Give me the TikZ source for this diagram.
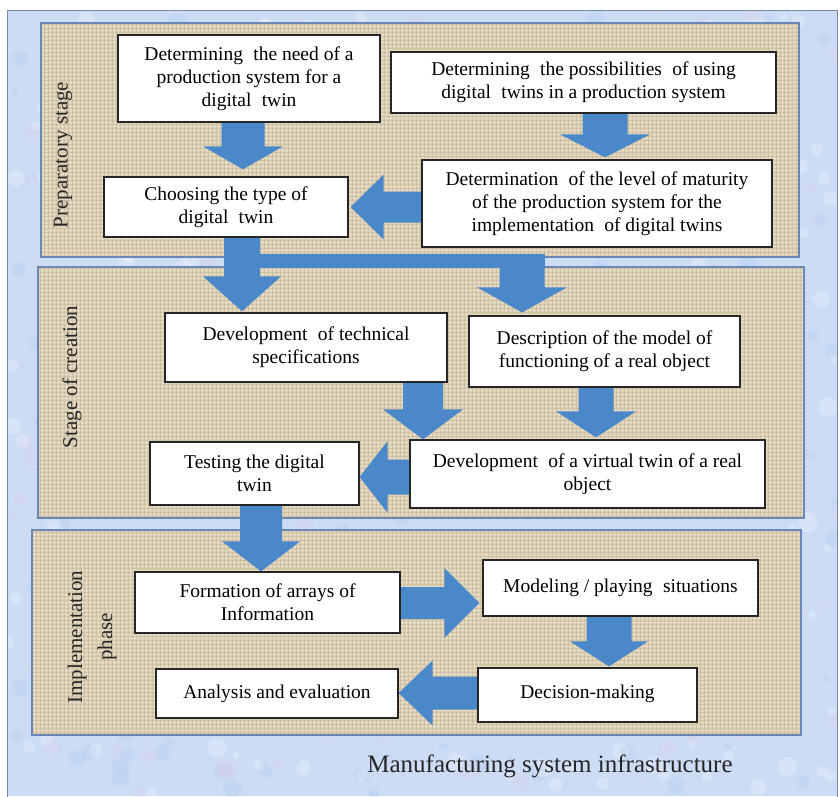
\documentclass[tikz,border=0pt]{standalone}
\usepackage{fontspec}
\setmainfont{Liberation Serif}
\usetikzlibrary{calc}
\definecolor{bgblue}{RGB}{204,220,244}
\definecolor{blobpink}{RGB}{226,202,234}
\definecolor{blobblue}{RGB}{170,198,238}
\definecolor{framecol}{RGB}{120,138,170}
\definecolor{tanfill}{RGB}{221,207,179}
\definecolor{tanline}{RGB}{170,150,115}
\definecolor{panelline}{RGB}{105,135,180}
\definecolor{arrowblue}{RGB}{74,136,202}
\newcommand\dsp{\hspace{0.28em}}
% down block arrow: #1 x, #2 from anchor, #3 to anchor, #4 gap, #5 shaft half width, #6 head half width, #7 head length
\newcommand\dblk[7]{%
  \fill[blkarrow] let \p1=(#2), \p2=(#3), \p3=(#1,0) in
    (\x3-#5pt,\y1) -- (\x3+#5pt,\y1) -- (\x3+#5pt,\y2+#4pt+#7pt) -- (\x3+#6pt,\y2+#4pt+#7pt)
    -- (\x3,\y2+#4pt) -- (\x3-#6pt,\y2+#4pt+#7pt) -- (\x3-#5pt,\y2+#4pt+#7pt) -- cycle;}
% left block arrow: #1 y
\newcommand\lblk[7]{%
  \fill[blkarrow] let \p1=(#2), \p2=(#3), \p3=(0,#1) in
    (\x1,\y3-#5pt) -- (\x1,\y3+#5pt) -- (\x2+#4pt+#7pt,\y3+#5pt) -- (\x2+#4pt+#7pt,\y3+#6pt)
    -- (\x2+#4pt,\y3) -- (\x2+#4pt+#7pt,\y3-#6pt) -- (\x2+#4pt+#7pt,\y3-#5pt) -- cycle;}
% right block arrow
\newcommand\rblk[7]{%
  \fill[blkarrow] let \p1=(#2), \p2=(#3), \p3=(0,#1) in
    (\x1,\y3-#5pt) -- (\x1,\y3+#5pt) -- (\x2-#4pt-#7pt,\y3+#5pt) -- (\x2-#4pt-#7pt,\y3+#6pt)
    -- (\x2-#4pt,\y3) -- (\x2-#4pt-#7pt,\y3-#6pt) -- (\x2-#4pt-#7pt,\y3-#5pt) -- cycle;}
\newcommand\panelbox[4]{%
  \fill[tanfill] (#1,#2) rectangle (#3,#4);
  \begin{scope}
    \clip (#1,#2) rectangle (#3,#4);
    \draw[tanline, line width=0.5pt, opacity=0.28] (#1,#2) grid[step=4pt] (#3,#4);
    \draw[white, line width=0.5pt, opacity=0.25, xshift=2pt, yshift=2pt] (#1-4,#2-4) grid[step=4pt] (#3,#4);
  \end{scope}
  \draw[panelline, line width=1.5pt] (#1,#2) rectangle (#3,#4);}
\begin{document}
\begin{tikzpicture}[x=1pt,y=-1pt,
  box/.style={draw=black!85, line width=1.3pt, fill=white, inner sep=2pt, align=center,
    font=\fontsize{19.5}{23}\selectfont},
  blkarrow/.style={fill=arrowblue},
  stagelabel/.style={rotate=90, align=center, font=\fontsize{21}{30}\selectfont, text=black!85},
  caption/.style={font=\fontsize{25}{28}\selectfont, text=black!85}]
\useasboundingbox (0,0) rectangle (840,796);
\fill[white] (0,0) rectangle (840,796);
% mottled blue background
\begin{scope}
  \clip (7,10) rectangle (837,796);
  \fill[bgblue] (7,10) rectangle (837,796);
  \pgfmathsetseed{12}
  \foreach \i in {1,...,700}{
    \pgfmathsetmacro\rx{7+830*rnd}
    \pgfmathsetmacro\ry{10+786*rnd}
    \pgfmathsetmacro\rr{3+7*rnd}
    \pgfmathtruncatemacro\rc{mod(\i,3)}
    \ifcase\rc \def\bc{blobpink}\or \def\bc{blobblue}\or \def\bc{white}\fi
    \fill[\bc, fill opacity=0.22] (\rx,\ry) circle[radius=\rr pt];
  }
\end{scope}
\draw[framecol, line width=1pt] (7,10) rectangle (837,800);
% stage panels
\panelbox{41}{23}{799}{257}
\panelbox{38}{267}{804}{518}
\panelbox{32}{530}{801}{735}
% boxes
\node[box, minimum width=262, minimum height=87] (B1) at (249,78.5) {Determining\dsp{} the need of a\\production system for a\\digital\dsp{} twin};
\node[box, minimum width=385, minimum height=61] (B2) at (583.5,82.5) {Determining\dsp{} the possibilities\dsp{} of using\\digital\dsp{} twins in a production system};
\node[box, minimum width=244, minimum height=60] (B3) at (226,207) {Choosing the type of\\digital\dsp{} twin};
\node[box, minimum width=350, minimum height=87] (B4) at (597,203.5) {Determination\dsp{} of the level of maturity\\of the production system for the\\implementation\dsp{} of digital twins};
\node[box, minimum width=282, minimum height=69] (B5) at (306,347.5) {Development\dsp{} of technical\\specifications};
\node[box, minimum width=271, minimum height=71] (B6) at (604.5,351.5) {Description of the model of\\functioning of a real object};
\node[box, minimum width=209, minimum height=63] (B7) at (254.5,473.5) {Testing the digital\\twin};
\node[box, minimum width=355, minimum height=68] (B8) at (587.5,474) {Development\dsp{} of a virtual twin of a real\\object};
\node[box, minimum width=265, minimum height=61] (B9) at (267.5,602.5) {Formation of arrays of\\Information};
\node[box, minimum width=275, minimum height=56] (B10) at (620.5,588) {\raisebox{4pt}{Modeling / playing\dsp{} situations}};
\node[box, minimum width=219, minimum height=54] (B11) at (587.5,695) {\raisebox{7pt}{Decision-making}};
\node[box, minimum width=242, minimum height=49] (B12) at (277,693.5) {\raisebox{2pt}{Analysis and evaluation}};
% block arrows
\coordinate (E) at (522,254);
\dblk{243}{B1.south}{B3.north}{7}{21.5}{40}{23}
\dblk{605}{B2.south}{B4.north}{2}{22.5}{45}{23}
\lblk{207}{B4.west}{B3.east}{2}{15.5}{32.5}{33}
\dblk{242}{B3.south}{B5.north}{1}{18}{39}{35}
\fill[blkarrow] (256,254) rectangle (544.5,268);
\dblk{522}{E}{B6.north}{3}{22.5}{45}{25}
\dblk{423}{B5.south}{B8.north}{0}{20}{40}{30}
\dblk{596}{B6.south}{B8.north}{2}{17.5}{40}{26}
\lblk{477}{B8.west}{B7.east}{0}{17.5}{36}{28}
\dblk{261}{B7.south}{B9.north}{0}{21}{39}{30}
\rblk{603}{B9.east}{B10.west}{3}{16}{35}{35}
\dblk{609}{B10.south}{B11.north}{1}{22.5}{39}{25}
\lblk{693}{B11.west}{B12.east}{0}{16.5}{32.5}{34}
% redraw box borders on top of arrows
\foreach \n in {B1,B2,B3,B4,B5,B6,B7,B8,B9,B10,B11,B12}{
  \draw[black!85, line width=1.3pt] (\n.north west) rectangle (\n.south east);}
% stage labels
\node[stagelabel] (L1) at (63,155) {Preparatory stage};
\node[stagelabel] (L2) at (72,377) {Stage of creation};
\node[stagelabel] (L3) at (92,637) {Implementation\\phase};
% caption
\node[caption, anchor=base] (C) at (550,772) {Manufacturing system infrastructure};
\end{tikzpicture}
\end{document}
